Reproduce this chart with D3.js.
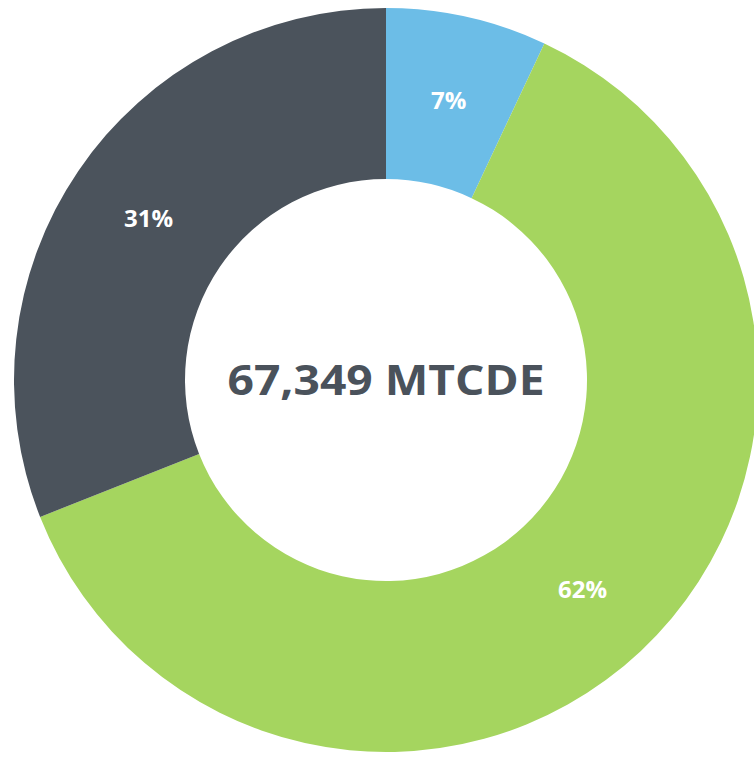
<!DOCTYPE html>
<html>
<head>
<meta charset="utf-8">
<script src="https://cdn.jsdelivr.net/npm/d3@7"></script>
<style>
  body { margin: 0; background: #fff; }
  svg { display: block; }
</style>
</head>
<body>
<div id="chart"></div>
<script>
// shares of total emissions, clockwise from 12 o'clock
var segments = ["Blue", "Green", "Dark"];
var shares = [7, 62, 31];
var colors = ["#6CBDE7", "#A5D55F", "#4B535C"];
var totalLabel = "67,349 MTCDE";

var width = 754, height = 757;
var cx = 386, cy = 380;
var outerR = 372, innerR = 201;

const svg = d3.select("#chart")
  .append("svg")
  .attr("width", width)
  .attr("height", height)
  .append("g")
  .attr("transform", "translate(" + cx + "," + cy + ")");

const pie = d3.pie()
  .sort(null)
  .value(d => d);

const arc = d3.arc()
  .innerRadius(innerR)
  .outerRadius(outerR);

const labelArc = d3.arc()
  .innerRadius(287)
  .outerRadius(287);

const arcs = pie(shares);

svg.selectAll("path")
  .data(arcs)
  .enter().append("path")
  .attr("d", arc)
  .style("fill", (d, i) => colors[i]);

// percentage labels
svg.selectAll("text.pct")
  .data(arcs)
  .enter().append("text")
  .attr("class", "pct")
  .attr("transform", d => "translate(" + labelArc.centroid(d) + ")")
  .attr("text-anchor", "middle")
  .attr("dy", "0.36em")
  .style("font-family", "'Open Sans', sans-serif")
  .style("font-weight", "bold")
  .style("font-size", "24px")
  .style("fill", "#fff")
  .text(d => d.data + "%");

// total in the middle
svg.append("text")
  .attr("x", 0)
  .attr("y", 0)
  .attr("text-anchor", "middle")
  .attr("dy", "0.36em")
  .attr("textLength", 317)
  .attr("lengthAdjust", "spacingAndGlyphs")
  .style("font-family", "'Open Sans', sans-serif")
  .style("font-weight", "bold")
  .style("font-size", "41px")
  .style("fill", "#4A525B")
  .text(totalLabel);
</script>
</body>
</html>
